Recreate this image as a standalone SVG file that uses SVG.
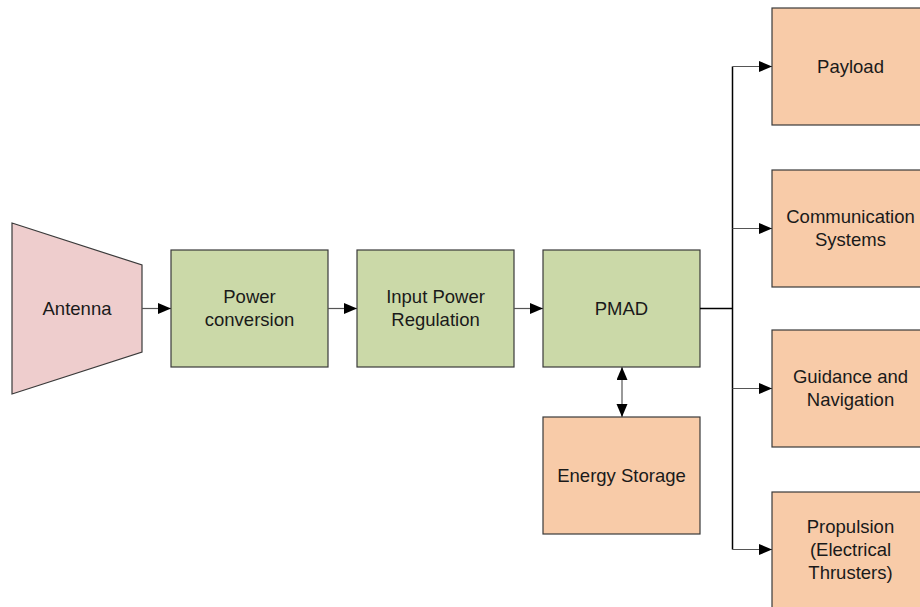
<svg xmlns="http://www.w3.org/2000/svg" width="920" height="607" viewBox="0 0 920 607">
<defs>
<marker id="ah" markerUnits="userSpaceOnUse" markerWidth="14" markerHeight="12" refX="13" refY="5.5" orient="auto-start-reverse">
<path d="M0,0 L13,5.5 L0,11 Z" fill="#000"/>
</marker>
<style>
.box{stroke:#3a3a3a;stroke-width:1.2}
.g{fill:#cbd9a8}
.o{fill:#f8cba8}
.p{fill:#eecdcd}
.t{font-family:"Liberation Sans",Arial,Helvetica,sans-serif;font-size:18.5px;fill:#1a1a1a;text-anchor:middle}
.c{fill:none;stroke:#555;stroke-width:1.2}
.bus{fill:none;stroke:#000;stroke-width:1.5}
</style>
</defs>
<rect width="920" height="607" fill="#fff"/>
<g id="antenna">
<polygon class="box p" points="12,223 142,265 142,352 12,394"/>
<text class="t" x="77" y="315">Antenna</text>
</g>
<g id="power-conversion">
<rect class="box g" x="171" y="250" width="157" height="117"/>
<text class="t" x="249.5" y="303">Power</text>
<text class="t" x="249.5" y="326">conversion</text>
</g>
<g id="input-power-regulation">
<rect class="box g" x="357" y="250" width="157" height="117"/>
<text class="t" x="435.5" y="303">Input Power</text>
<text class="t" x="435.5" y="326">Regulation</text>
</g>
<g id="pmad">
<rect class="box g" x="543" y="250" width="157" height="117"/>
<text class="t" x="621.5" y="315">PMAD</text>
</g>
<g id="energy-storage">
<rect class="box o" x="543" y="417" width="157" height="117"/>
<text class="t" x="621.5" y="482">Energy Storage</text>
</g>
<g id="payload">
<rect class="box o" x="772" y="8" width="157" height="117"/>
<text class="t" x="850.5" y="73">Payload</text>
</g>
<g id="communication-systems">
<rect class="box o" x="772" y="170" width="157" height="117"/>
<text class="t" x="850.5" y="223">Communication</text>
<text class="t" x="850.5" y="246">Systems</text>
</g>
<g id="guidance-navigation">
<rect class="box o" x="772" y="330" width="157" height="117"/>
<text class="t" x="850.5" y="383">Guidance and</text>
<text class="t" x="850.5" y="406">Navigation</text>
</g>
<g id="propulsion">
<rect class="box o" x="772" y="492" width="157" height="117"/>
<text class="t" x="850.5" y="533">Propulsion</text>
<text class="t" x="850.5" y="556">(Electrical</text>
<text class="t" x="850.5" y="579">Thrusters)</text>
</g>
<g id="connectors">
<line class="c" x1="142" y1="308.5" x2="171" y2="308.5" marker-end="url(#ah)"/>
<line class="c" x1="328" y1="308.5" x2="357" y2="308.5" marker-end="url(#ah)"/>
<line class="c" x1="514" y1="308.5" x2="543" y2="308.5" marker-end="url(#ah)"/>
<line class="c" x1="622" y1="367" x2="622" y2="417" marker-start="url(#ah)" marker-end="url(#ah)"/>
<polyline class="bus" points="700,308.5 732.5,308.5"/>
<line class="bus" x1="732.5" y1="66.5" x2="732.5" y2="549.5"/>
<line class="c" x1="732.5" y1="66.5" x2="772" y2="66.5" marker-end="url(#ah)"/>
<line class="c" x1="732.5" y1="228.5" x2="772" y2="228.5" marker-end="url(#ah)"/>
<line class="c" x1="732.5" y1="388.5" x2="772" y2="388.5" marker-end="url(#ah)"/>
<line class="c" x1="732.5" y1="549.5" x2="772" y2="549.5" marker-end="url(#ah)"/>
</g>
</svg>
